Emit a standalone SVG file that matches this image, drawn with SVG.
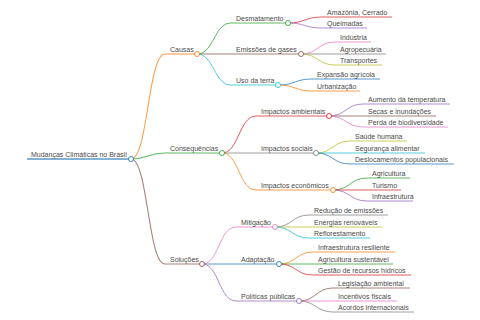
<svg xmlns="http://www.w3.org/2000/svg" width="480" height="320" viewBox="0 0 480 320">
<style>
text{font-family:"Liberation Sans",Arial,sans-serif;font-size:7px;fill:#4a4a4a}
path,line{fill:none;stroke-width:1;stroke-opacity:0.75}
circle{fill:#fff;stroke-width:1;stroke-opacity:0.85}
.blue{stroke:#1f77b4}.orange{stroke:#ff7f0e}.green{stroke:#2ca02c}.red{stroke:#d62728}.purple{stroke:#9467bd}.brown{stroke:#8c564b}.pink{stroke:#e377c2}.gray{stroke:#7f7f7f}.olive{stroke:#bcbd22}.cyan{stroke:#17becf}
.d0{stroke-width:1.5}.d1{stroke-width:1.1}
</style>
<rect width="480" height="320" fill="#fff"/>
<g id="connectors">
<path class="orange d1" d="M131,159 C148,159 148,54 165,54"/>
<path class="green d1" d="M131,159 C148,159 148,153 165,153"/>
<path class="brown d1" d="M131,159 C148,159 148,264 165,264"/>
<path class="green" d="M197,54 C214,54 214,23 231,23"/>
<path class="brown" d="M197,54 L231,54"/>
<path class="cyan" d="M197,54 C214,54 214,85 231,85"/>
<path class="red" d="M222,153 C239,153 239,116 256,116"/>
<path class="gray" d="M222,153 L256,153"/>
<path class="orange" d="M222,153 C239,153 239,190 256,190"/>
<path class="pink" d="M202,264 C219,264 219,227 236,227"/>
<path class="blue" d="M202,264 L236,264"/>
<path class="purple" d="M202,264 C219,264 219,301 236,301"/>
<path class="red" d="M288,23 C305,23 305,17 322,17"/>
<path class="purple" d="M288,23 C305,23 305,28 322,28"/>
<path class="pink" d="M301,54 C318,54 318,42 335,42"/>
<path class="gray" d="M301,54 L335,54"/>
<path class="olive" d="M301,54 C318,54 318,65 335,65"/>
<path class="blue" d="M278,85 C295,85 295,79 312,79"/>
<path class="orange" d="M278,85 C295,85 295,91 312,91"/>
<path class="purple" d="M329,116 C346,116 346,104 363,104"/>
<path class="brown" d="M329,116 L363,116"/>
<path class="pink" d="M329,116 C346,116 346,127 363,127"/>
<path class="olive" d="M316,153 C333,153 333,141 350,141"/>
<path class="cyan" d="M316,153 L350,153"/>
<path class="blue" d="M316,153 C333,153 333,164 350,164"/>
<path class="green" d="M333,190 C350,190 350,178 367,178"/>
<path class="red" d="M333,190 L367,190"/>
<path class="purple" d="M333,190 C350,190 350,201 367,201"/>
<path class="gray" d="M275,227 C292,227 292,215 309,215"/>
<path class="olive" d="M275,227 L309,227"/>
<path class="cyan" d="M275,227 C292,227 292,238 309,238"/>
<path class="orange" d="M279,264 C296,264 296,252 313,252"/>
<path class="green" d="M279,264 L313,264"/>
<path class="red" d="M279,264 C296,264 296,275 313,275"/>
<path class="brown" d="M299,301 C316,301 316,288 333,288"/>
<path class="pink" d="M299,301 L333,301"/>
<path class="gray" d="M299,301 C316,301 316,312 333,312"/>
</g>
<g id="root"><line class="blue d0" x1="27" y1="159" x2="131" y2="159"/><circle class="blue" cx="131" cy="159" r="2.5"/><text x="31" y="156.8">Mudanças Climáticas no Brasil</text></g>
<g id="causas"><line class="orange d1" x1="165" y1="54" x2="197" y2="54"/><circle class="orange" cx="197" cy="54" r="2.5"/><text x="170" y="51.8">Causas</text></g>
<g id="consequencias"><line class="green d1" x1="165" y1="153" x2="222" y2="153"/><circle class="green" cx="222" cy="153" r="2.5"/><text x="170" y="150.8">Consequências</text></g>
<g id="solucoes"><line class="brown d1" x1="165" y1="264" x2="202" y2="264"/><circle class="brown" cx="202" cy="264" r="2.5"/><text x="170" y="261.8">Soluções</text></g>
<g id="desmatamento"><line class="green" x1="231" y1="23" x2="288" y2="23"/><circle class="green" cx="288" cy="23" r="2.5"/><text x="236" y="20.8">Desmatamento</text></g>
<g id="emissoes"><line class="brown" x1="231" y1="54" x2="301" y2="54"/><circle class="brown" cx="301" cy="54" r="2.5"/><text x="236" y="51.8">Emissões de gases</text></g>
<g id="uso-terra"><line class="cyan" x1="231" y1="85" x2="278" y2="85"/><circle class="cyan" cx="278" cy="85" r="2.5"/><text x="236" y="82.8">Uso da terra</text></g>
<g id="imp-ambientais"><line class="red" x1="256" y1="116" x2="329" y2="116"/><circle class="red" cx="329" cy="116" r="2.5"/><text x="261" y="113.8">Impactos ambientais</text></g>
<g id="imp-sociais"><line class="gray" x1="256" y1="153" x2="316" y2="153"/><circle class="gray" cx="316" cy="153" r="2.5"/><text x="261" y="150.8">Impactos sociais</text></g>
<g id="imp-economicos"><line class="orange" x1="256" y1="190" x2="333" y2="190"/><circle class="orange" cx="333" cy="190" r="2.5"/><text x="261" y="187.8">Impactos econômicos</text></g>
<g id="mitigacao"><line class="pink" x1="236" y1="227" x2="275" y2="227"/><circle class="pink" cx="275" cy="227" r="2.5"/><text x="241" y="224.8">Mitigação</text></g>
<g id="adaptacao"><line class="blue" x1="236" y1="264" x2="279" y2="264"/><circle class="blue" cx="279" cy="264" r="2.5"/><text x="241" y="261.8">Adaptação</text></g>
<g id="politicas"><line class="purple" x1="236" y1="301" x2="299" y2="301"/><circle class="purple" cx="299" cy="301" r="2.5"/><text x="241" y="298.8">Políticas públicas</text></g>
<g id="amazonia"><line class="red" x1="322" y1="17" x2="392" y2="17"/><text x="327" y="14.8">Amazônia, Cerrado</text></g>
<g id="queimadas"><line class="purple" x1="322" y1="28" x2="367" y2="28"/><text x="327" y="25.8">Queimadas</text></g>
<g id="industria"><line class="pink" x1="335" y1="42" x2="371" y2="42"/><text x="340" y="39.8">Indústria</text></g>
<g id="agropecuaria"><line class="gray" x1="335" y1="54" x2="386" y2="54"/><text x="340" y="51.8">Agropecuária</text></g>
<g id="transportes"><line class="olive" x1="335" y1="65" x2="382" y2="65"/><text x="340" y="62.8">Transportes</text></g>
<g id="expansao"><line class="blue" x1="312" y1="79" x2="380" y2="79"/><text x="317" y="76.8">Expansão agrícola</text></g>
<g id="urbanizacao"><line class="orange" x1="312" y1="91" x2="360" y2="91"/><text x="317" y="88.8">Urbanização</text></g>
<g id="aumento"><line class="purple" x1="363" y1="104" x2="450" y2="104"/><text x="368" y="101.8">Aumento da temperatura</text></g>
<g id="secas"><line class="brown" x1="363" y1="116" x2="436" y2="116"/><text x="368" y="113.8">Secas e inundações</text></g>
<g id="perda"><line class="pink" x1="363" y1="127" x2="448" y2="127"/><text x="368" y="124.8">Perda de biodiversidade</text></g>
<g id="saude"><line class="olive" x1="350" y1="141" x2="407" y2="141"/><text x="355" y="138.8">Saúde humana</text></g>
<g id="seguranca"><line class="cyan" x1="350" y1="153" x2="425" y2="153"/><text x="355" y="150.8">Segurança alimentar</text></g>
<g id="deslocamentos"><line class="blue" x1="350" y1="164" x2="454" y2="164"/><text x="355" y="161.8">Deslocamentos populacionais</text></g>
<g id="agricultura"><line class="green" x1="367" y1="178" x2="410" y2="178"/><text x="372" y="175.8">Agricultura</text></g>
<g id="turismo"><line class="red" x1="367" y1="190" x2="401" y2="190"/><text x="372" y="187.8">Turismo</text></g>
<g id="infraestrutura"><line class="purple" x1="367" y1="201" x2="413" y2="201"/><text x="372" y="198.8">Infraestrutura</text></g>
<g id="reducao"><line class="gray" x1="309" y1="215" x2="388" y2="215"/><text x="314" y="212.8">Redução de emissões</text></g>
<g id="energias"><line class="olive" x1="309" y1="227" x2="382" y2="227"/><text x="314" y="224.8">Energias renováveis</text></g>
<g id="reflorestamento"><line class="cyan" x1="309" y1="238" x2="370" y2="238"/><text x="314" y="235.8">Reflorestamento</text></g>
<g id="infra-resiliente"><line class="orange" x1="313" y1="252" x2="395" y2="252"/><text x="318" y="249.8">Infraestrutura resiliente</text></g>
<g id="agri-sustentavel"><line class="green" x1="313" y1="264" x2="393" y2="264"/><text x="318" y="261.8">Agricultura sustentável</text></g>
<g id="gestao"><line class="red" x1="313" y1="275" x2="411" y2="275"/><text x="318" y="272.8">Gestão de recursos hídricos</text></g>
<g id="legislacao"><line class="brown" x1="333" y1="288" x2="410" y2="288"/><text x="338" y="285.8">Legislação ambiental</text></g>
<g id="incentivos"><line class="pink" x1="333" y1="301" x2="397" y2="301"/><text x="338" y="298.8">Incentivos fiscais</text></g>
<g id="acordos"><line class="gray" x1="333" y1="312" x2="414" y2="312"/><text x="338" y="309.8">Acordos internacionais</text></g>
</svg>
